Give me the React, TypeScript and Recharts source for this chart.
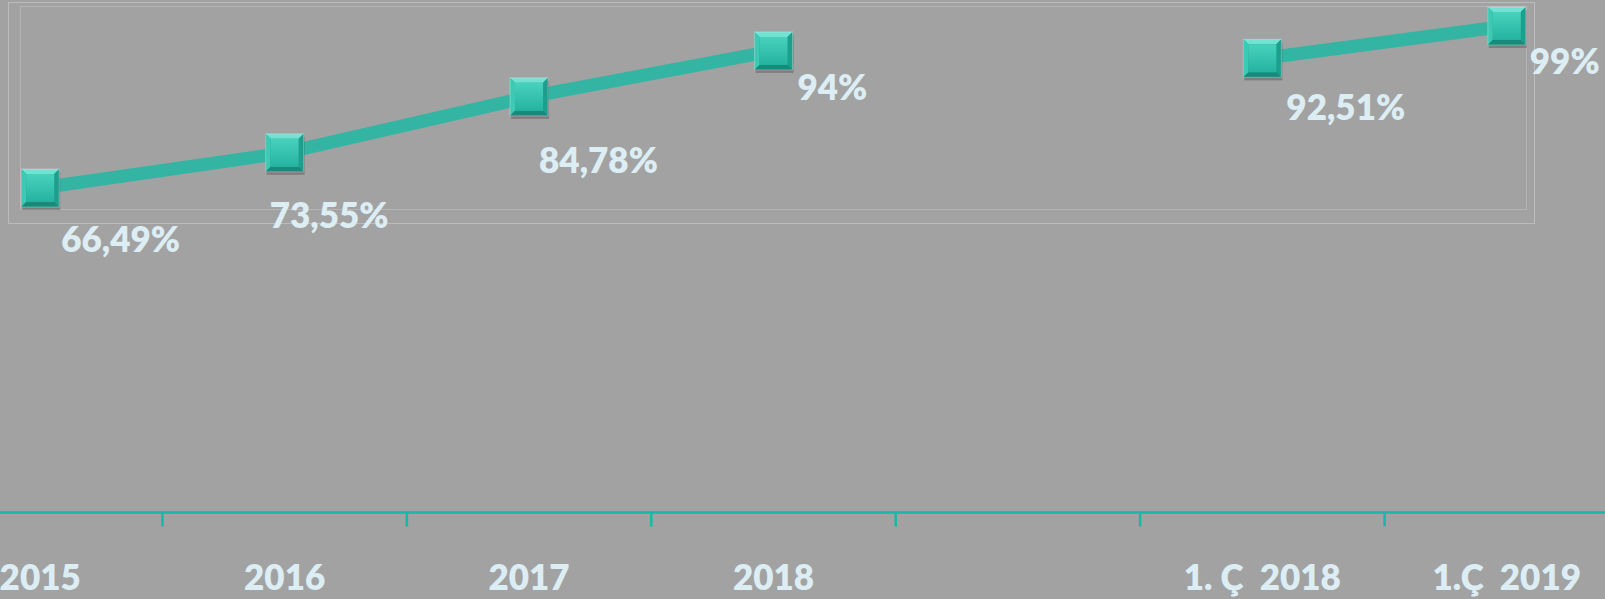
import { LineChart, Line, XAxis, YAxis } from "recharts";

// kategoriler (boş olan: 2018 ile çeyrekler arasındaki boşluk)
const CATEGORIES = ["2015", "2016", "2017", "2018", "", "1. Ç  2018", "1.Ç  2019"];
const VALUES: (number | null)[] = [66.49, 73.55, 84.78, 94, null, 92.51, 99];
const VALUE_LABELS = ["66,49%", "73,55%", "84,78%", "94%", "", "92,51%", "99%"];

const data = CATEGORIES.map((name, i) => ({ x: i, name, value: VALUES[i] }));
// kategori ortaları (metin) + aralarındaki sınırlar (çentik)
const TICKS = CATEGORIES.flatMap((_, i) => (i < CATEGORIES.length - 1 ? [i, i + 0.5] : [i]));

// etiketlerin işaretçiye göre kaydırması (Excel'de elle yerleştirilmiş)
const LABEL_OFFSETS: [number, number][] = [
  [21, 64],
  [-15, 75],
  [10, 76],
  [24, 49],
  [0, 0],
  [24, 62],
  [23, 48],
];

const TEAL = "#17b9a6";
const LINE = "#34b5a4";
const TEXT = "#dcedf3";
const FONT = "Lato, 'Open Sans', sans-serif";

function Marker(props: any) {
  const { cx, cy, value } = props;
  if (value == null || cx == null || cy == null) return null;
  const s = 19;
  const b = 5;
  return (
    <g>
      <defs>
        <linearGradient id="faceGrad" x1="0" y1="0" x2="0" y2="1">
          <stop offset="0%" stopColor="#48d2be" />
          <stop offset="100%" stopColor="#24b39f" />
        </linearGradient>
      </defs>
      <rect x={cx - s + 1} y={cy - s + 3} width={s * 2} height={s * 2} fill="rgba(0,0,0,0.22)" />
      <rect x={cx - s} y={cy - s} width={s * 2} height={s * 2} fill="#1f9e8d" />
      <polygon
        points={`${cx - s},${cy - s} ${cx + s},${cy - s} ${cx + s - b},${cy - s + b} ${cx - s + b},${cy - s + b}`}
        fill="#72e2d2"
      />
      <polygon
        points={`${cx - s},${cy - s} ${cx - s + b},${cy - s + b} ${cx - s + b},${cy + s - b} ${cx - s},${cy + s}`}
        fill="#3ec9b5"
      />
      <polygon
        points={`${cx + s},${cy - s} ${cx + s},${cy + s} ${cx + s - b},${cy + s - b} ${cx + s - b},${cy - s + b}`}
        fill="#1d9f8e"
      />
      <polygon
        points={`${cx - s},${cy + s} ${cx + s},${cy + s} ${cx + s - b},${cy + s - b} ${cx - s + b},${cy + s - b}`}
        fill="#178a7b"
      />
      <rect
        x={cx - s + b}
        y={cy - s + b}
        width={(s - b) * 2}
        height={(s - b) * 2}
        fill="url(#faceGrad)"
      />
      <rect
        x={cx - s}
        y={cy - s}
        width={s * 2}
        height={s * 2}
        fill="none"
        stroke="rgba(255,255,255,0.3)"
        strokeWidth={1}
      />
    </g>
  );
}

function ValueLabel(props: any) {
  const { x, y, index, value } = props;
  if (value == null || x == null || y == null) return null;
  const [dx, dy] = LABEL_OFFSETS[index] || [20, 50];
  return (
    <text
      x={x + dx}
      y={y + dy}
      textAnchor="start"
      fill={TEXT}
      fontFamily={FONT}
      fontWeight={800}
      fontSize={35}
    >
      {VALUE_LABELS[index]}
    </text>
  );
}

function AxisTick(props: any) {
  const { x, y, payload } = props;
  const v = payload.value;
  if (!Number.isInteger(v)) {
    return <line x1={x} x2={x} y1={y} y2={y + 14} stroke={TEAL} strokeWidth={2.5} />;
  }
  return (
    <text
      x={x}
      y={y + 77}
      textAnchor="middle"
      fill={TEXT}
      fontFamily={FONT}
      fontWeight={800}
      fontSize={35}
      xmlSpace="preserve"
      style={{ whiteSpace: "pre" }}
    >
      {CATEGORIES[v]}
    </text>
  );
}

export default function App() {
  return (
    <div
      style={{
        position: "absolute",
        left: 0,
        top: 0,
        width: 1605,
        height: 599,
        overflow: "hidden",
        background: "#a2a2a2",
      }}
    >
      {/* soluk çerçeveler */}
      <div
        style={{
          position: "absolute",
          left: 8,
          top: 2,
          width: 1527,
          height: 222,
          border: "1px solid rgba(255,255,255,0.28)",
          boxSizing: "border-box",
        }}
      />
      <div
        style={{
          position: "absolute",
          left: 20,
          top: 6,
          width: 1507,
          height: 204,
          border: "1px solid rgba(255,255,255,0.2)",
          boxSizing: "border-box",
        }}
      />
      <div style={{ position: "absolute", left: -82, top: 0 }}>
        <LineChart
          width={1711}
          height={599}
          data={data}
          margin={{ top: 21, right: 0, left: 0, bottom: 0 }}
        >
          <XAxis
            dataKey="x"
            type="number"
            domain={[-0.5, 6.5]}
            ticks={TICKS}
            tick={<AxisTick />}
            tickSize={0}
            tickMargin={0}
            height={86.5}
            interval={0}
            axisLine={{ stroke: TEAL, strokeWidth: 2.5 }}
            tickLine={false}
          />
          <YAxis hide domain={[1.4, 100]} />
          <Line
            dataKey="value"
            stroke={LINE}
            strokeWidth={13}
            dot={(p: any) => <Marker key={`m-${p.index}`} {...p} />}
            activeDot={false}
            label={(p: any) => <ValueLabel key={`l-${p.index}`} {...p} />}
            isAnimationActive={false}
          />
        </LineChart>
      </div>
    </div>
  );
}
